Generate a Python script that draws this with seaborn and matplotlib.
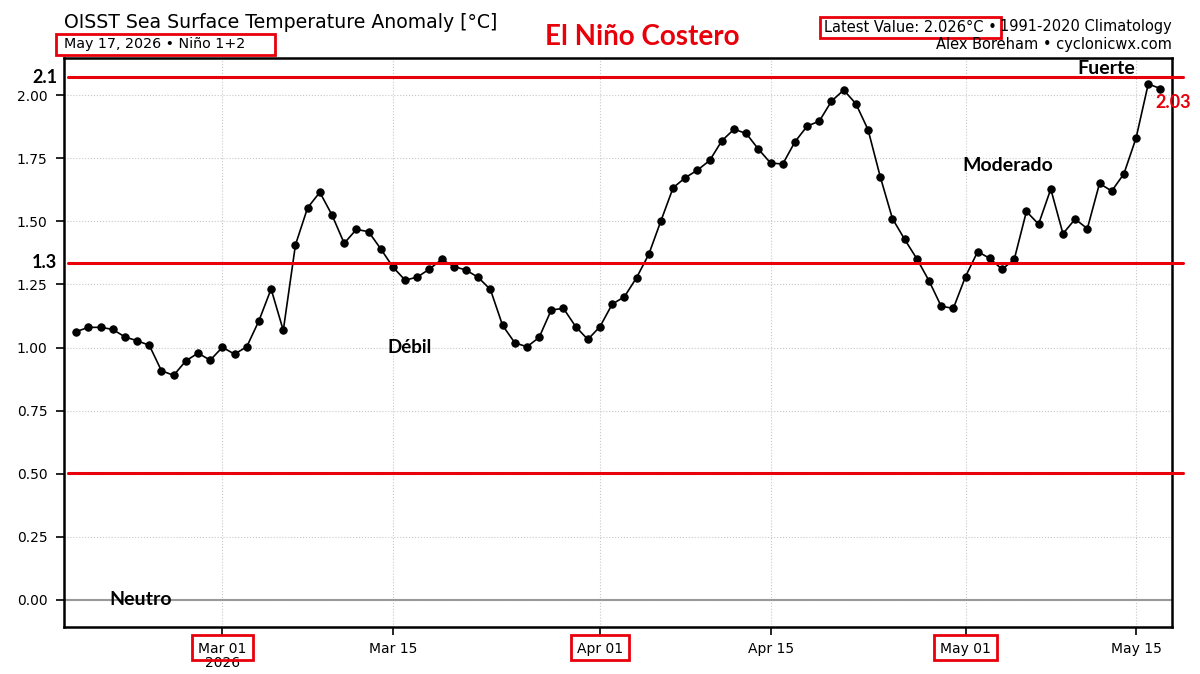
import numpy as np
import pandas as pd
import matplotlib
matplotlib.use('Agg')
import matplotlib.pyplot as plt
from matplotlib.patches import Rectangle
from matplotlib.transforms import IdentityTransform
import seaborn as sns

# daily Nino 1+2 OISST anomaly, Feb 17 - May 17 2026
start_date = '2026-02-17'
anom = [1.063, 1.080, 1.080, 1.072, 1.042, 1.027, 1.009, 0.908, 0.890, 0.947,
        0.978, 0.950, 1.001, 0.974, 1.003, 1.106, 1.232, 1.068, 1.407, 1.554,
        1.615, 1.525, 1.413, 1.468, 1.459, 1.391, 1.319, 1.267, 1.279, 1.311,
        1.349, 1.321, 1.307, 1.278, 1.230, 1.088, 1.019, 1.003, 1.040, 1.149,
        1.155, 1.083, 1.032, 1.083, 1.172, 1.201, 1.277, 1.369, 1.502, 1.633,
        1.673, 1.703, 1.741, 1.819, 1.865, 1.848, 1.786, 1.731, 1.727, 1.815,
        1.877, 1.897, 1.976, 2.020, 1.966, 1.863, 1.677, 1.511, 1.429, 1.352,
        1.265, 1.164, 1.155, 1.281, 1.380, 1.353, 1.310, 1.349, 1.539, 1.489,
        1.628, 1.451, 1.509, 1.471, 1.650, 1.620, 1.688, 1.830, 2.044, 2.026]

# hand-drawn threshold lines (as placed on the picture) and their labels
thresholds = [0.503, 1.335, 2.07]
threshold_labels = ['', '1.3', '2.1']

tick_dates = ['2026-03-01', '2026-03-15', '2026-04-01', '2026-04-15', '2026-05-01', '2026-05-15']
tick_labels = ['Mar 01', 'Mar 15', 'Apr 01', 'Apr 15', 'May 01', 'May 15']
boxed_ticks = ['Mar 01', 'Apr 01', 'May 01']

df = pd.DataFrame({'date': pd.date_range(start_date, periods=len(anom), freq='D'),
                   'anom': anom})

sns.set_style('white')
plt.rcParams['font.family'] = ['DejaVu Sans']
plt.rcParams['text.color'] = 'black'
plt.rcParams['xtick.color'] = 'black'
plt.rcParams['ytick.color'] = 'black'
bold_font = ['Lato', 'DejaVu Sans']
RED = '#e8000b'

fig = plt.figure(figsize=(12, 6.74), dpi=100)
ax = fig.add_axes([64 / 1200, 1 - 627 / 674, 1108 / 1200, 569 / 674])

ax.axhline(0, color='#999999', lw=1.5, zorder=1)
sns.lineplot(data=df, x='date', y='anom', ax=ax, color='black', lw=1.2,
             marker='o', markersize=5.3, markeredgecolor='black', zorder=3)

for th in thresholds:
    ax.plot([0.004, 1.01], [th, th], color=RED, lw=2.2,
            transform=ax.get_yaxis_transform(), clip_on=False, zorder=4)
for th, lab in zip(thresholds, threshold_labels):
    if lab:
        ax.text(-0.006, th, lab, transform=ax.get_yaxis_transform(), ha='right', va='center',
                fontsize=13, fontweight='bold', family=bold_font)

ax.set_xlim(df['date'].iloc[0] - pd.Timedelta(days=1), df['date'].iloc[-1] + pd.Timedelta(days=0.95))
ax.set_ylim(-0.107, 2.147)
ax.set_yticks(np.arange(0, 2.01, 0.25))
ax.yaxis.set_major_formatter(matplotlib.ticker.FormatStrFormatter('%.2f'))
ax.set_xticks(pd.to_datetime(tick_dates))
ax.set_xticklabels(tick_labels)
ax.set_xlabel('')
ax.set_ylabel('')
ax.tick_params(axis='both', direction='out', length=6, width=1.2, color='black',
               labelsize=10, labelcolor='black', bottom=True, left=True)
ax.tick_params(axis='x', pad=5)
ax.tick_params(axis='y', pad=6)
ax.grid(True, ls=':', color='#c8c8c8', lw=0.8)
ax.set_axisbelow(True)
for sp in ax.spines.values():
    sp.set_color('black')
    sp.set_linewidth(1.8)

ax.text(pd.Timestamp('2026-03-01'), -0.064, '2026', transform=ax.get_xaxis_transform(),
        ha='center', va='center', fontsize=10)

# phase labels
ax.text(pd.Timestamp('2026-03-16 08:00'), 1.0, 'Débil', ha='center', va='center',
        fontsize=13.5, fontweight='bold', family=bold_font)
ax.text(pd.Timestamp('2026-05-04 12:00'), 1.72, 'Moderado', ha='center', va='center',
        fontsize=14, fontweight='bold', family=bold_font)
ax.text(pd.Timestamp('2026-05-12 13:00'), 2.105, 'Fuerte', ha='center', va='center',
        fontsize=14, fontweight='bold', family=bold_font)
ax.text(pd.Timestamp('2026-02-22 07:00'), 0.0, 'Neutro', ha='center', va='center',
        fontsize=14, fontweight='bold', family=bold_font)
ax.text(pd.Timestamp('2026-05-18 02:00'), 1.97, f'{anom[-1]:.2f}', ha='center', va='center',
        fontsize=13, fontweight='bold', color=RED, family=bold_font, clip_on=False)

# header texts
fig.text(64 / 1200, 1 - 22 / 674, 'OISST Sea Surface Temperature Anomaly [°C]',
         ha='left', va='center', fontsize=13.6)
sub = fig.text(64 / 1200, 1 - 44 / 674, 'May 17, 2026 • Niño 1+2',
               ha='left', va='center', fontsize=10.3)
clim = fig.text(1172 / 1200, 1 - 27 / 674, '1991-2020 Climatology',
                ha='right', va='center', fontsize=10.5)
fig.text(1172 / 1200, 1 - 44 / 674, 'Alex Boreham • cyclonicwx.com',
         ha='right', va='center', fontsize=10.5)
fig.text(642 / 1200, 1 - 37 / 674, 'El Niño Costero', ha='center', va='center',
         fontsize=20, fontweight='bold', color=RED, family=bold_font)

fig.canvas.draw()
bb = clim.get_window_extent(fig.canvas.get_renderer())
latest = fig.text(bb.x0 - 3, 674 - 27, f'Latest Value: {anom[-1]:.3f}°C •',
                  ha='right', va='center', fontsize=10.5, transform=IdentityTransform())
fig.canvas.draw()


def red_box(artist, left, right, down, up):
    b = artist.get_window_extent(fig.canvas.get_renderer())
    fig.patches.append(Rectangle((b.x0 - left, b.y0 - down), b.width + left + right,
                                 b.height + down + up, fill=False, edgecolor=RED, lw=2,
                                 transform=None, figure=fig))


red_box(sub, 8, 30, 4, 3)
red_box(latest, 4, 4, 3, 3)
for lab in ax.get_xticklabels():
    if lab.get_text() in boxed_ticks:
        red_box(lab, 6, 6, 4, 7)

fig.savefig('out.png', dpi=100)
